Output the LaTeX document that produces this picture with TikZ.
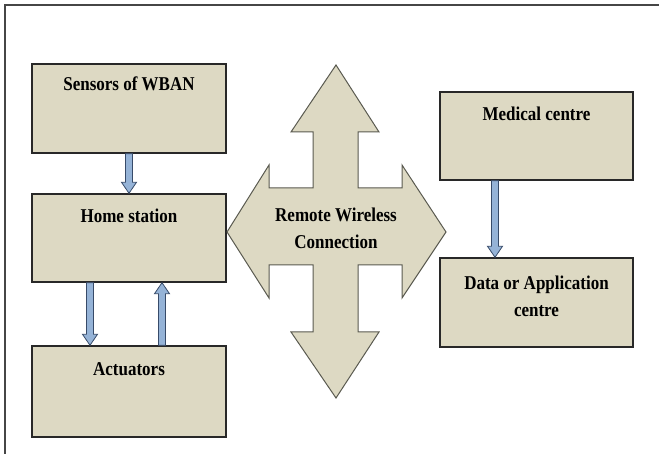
\documentclass[tikz,border=0pt]{standalone}
\usepackage{fontspec}
\usepackage{graphicx}
\setmainfont{Liberation Serif}
\usetikzlibrary{calc}
\definecolor{tanfill}{RGB}{221,217,195}
\definecolor{boxline}{RGB}{40,40,40}
\definecolor{crossline}{RGB}{90,90,80}
\definecolor{arrowblue}{RGB}{149,179,215}
\definecolor{arrowline}{RGB}{55,75,105}
\definecolor{frameline}{RGB}{70,70,70}
\newcommand{\tallText}[1]{\scalebox{1}[1.15]{\begin{tabular}{@{}c@{}}#1\end{tabular}}}
\tikzset{
  box/.style={draw=boxline, fill=tanfill, line width=1.4pt, rectangle, inner sep=0pt},
  lbl/.style={font=\fontsize{17}{23.5}\selectfont\bfseries, align=center, inner sep=0pt},
  barrow/.style={fill=arrowblue, draw=arrowline, line width=0.8pt, line join=miter, to path={
    let \p1=(\tikztostart), \p2=(\tikztotarget), \n1={(\y2>\y1)*2-1} in
    ({\x1-3.5pt},\y1) -- ({\x1-3.5pt},{\y2-\n1*11pt}) -- ({\x1-7.5pt},{\y2-\n1*11pt}) --
    (\x2,\y2) -- ({\x1+7.5pt},{\y2-\n1*11pt}) -- ({\x1+3.5pt},{\y2-\n1*11pt}) --
    ({\x1+3.5pt},\y1) -- cycle}}
}
\begin{document}
\begin{tikzpicture}[x=1pt,y=-1pt]
\useasboundingbox (0,0) rectangle (659,454);
% frame
\draw[frameline, line width=2pt] (5,454) -- (5,5) -- (659,5);
% boxes
\node[box, minimum width=194pt, minimum height=89pt] (s) at (129,108.5) {};
\node[box, minimum width=194pt, minimum height=88pt] (h) at (129,238) {};
\node[box, minimum width=194pt, minimum height=91pt] (a) at (129,391.5) {};
\node[box, minimum width=193pt, minimum height=88pt] (m) at (536.5,136) {};
\node[box, minimum width=193pt, minimum height=89pt] (d) at (536.5,302.5) {};
% texts
\node[lbl] (st) at (129,85.5) {\tallText{Sensors of WBAN}};
\node[lbl] (ht) at (129,217.5) {\tallText{Home station}};
\node[lbl] (at) at (129,370.5) {\tallText{Actuators}};
\node[lbl] (mt) at (536.5,115.5) {\tallText{Medical centre}};
\node[lbl] (dt) at (536.5,297.5) {\tallText{Data or Application\\centre}};
% cross arrow
\draw[fill=tanfill, draw=crossline, line width=1pt, line join=miter]
  (336,65) -- (379,132) -- (358,132) -- (358,188) -- (402,188) -- (402,165) --
  (446,232) -- (402,298) -- (402,265) -- (358,265) -- (358,332) -- (379,332) --
  (336,398) -- (291,332) -- (313,332) -- (313,265) -- (269,265) -- (269,298) --
  (227,232) -- (269,165) -- (269,188) -- (313,188) -- (313,132) -- (291,132) -- cycle;
\node[lbl] (ct) at (336,230) {\tallText{Remote Wireless\\Connection}};
% blue arrows
\draw[barrow] (s.south) to (h.north);
\draw[barrow] ([xshift=-39pt]h.south) to ([xshift=-39pt]a.north);
\draw[barrow] ([xshift=33pt]a.north) to ([xshift=33pt]h.south);
\draw[barrow] ([xshift=-41.5pt]m.south) to ([xshift=-41.5pt]d.north);
\end{tikzpicture}
\end{document}
